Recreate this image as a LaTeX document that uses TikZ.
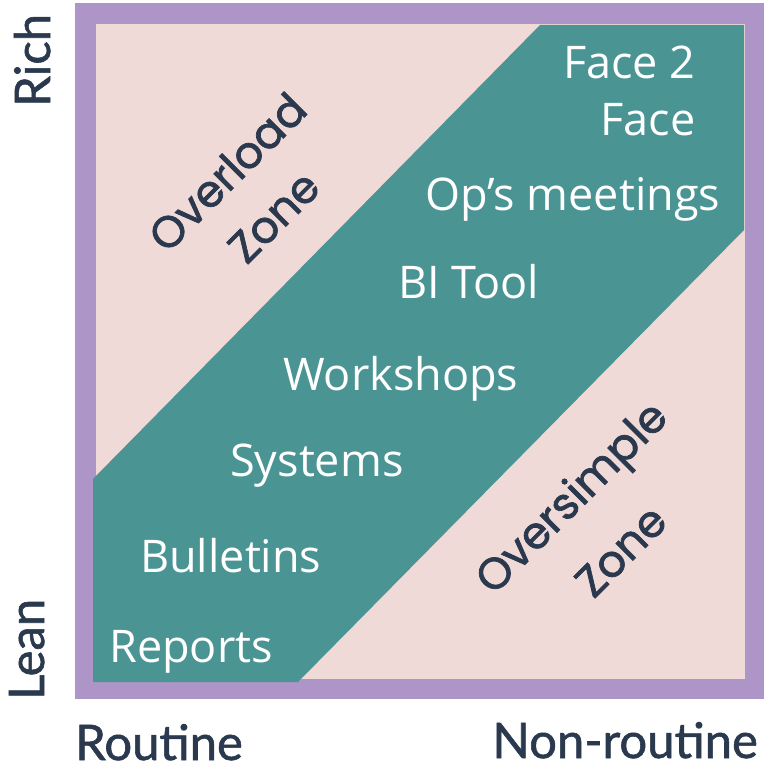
\documentclass[tikz,border=0pt]{standalone}
\usepackage{fontspec}
\setmainfont{Open Sans}
\newfontfamily\zonefont{Poppins}[FakeBold=1.6]
\newfontfamily\axisfont{Lato}[FakeBold=1.2]
\definecolor{borderpurple}{RGB}{173,150,199}
\definecolor{bgpink}{RGB}{240,218,216}
\definecolor{bandteal}{RGB}{74,148,148}
\definecolor{darktext}{RGB}{42,57,78}
\tikzset{
  item/.style={anchor=base west, inner sep=0pt, text=white, font=\fontsize{45}{54}\selectfont},
  zone/.style={inner sep=0pt, rotate=45, text=darktext, font=\zonefont\fontsize{44}{52}\selectfont},
  axis/.style={inner sep=0pt, text depth=0pt, text=darktext, font=\axisfont\fontsize{49}{58}\selectfont},
}
\begin{document}
\begin{tikzpicture}[x=1pt,y=-1pt]
\useasboundingbox (0,0) rectangle (768,768);
\fill[white] (0,0) rectangle (768,768);
% frame
\fill[borderpurple] (75,3) rectangle (764,699);
\fill[bgpink] (96,24) rectangle (745,679);
% band
\fill[bandteal] (93,682) -- (93,479) -- (540,25) -- (744,25) -- (744,230) -- (298,682) -- cycle;
% items
\node[item] (f2) at (563,78) {Face 2};
\node[item, anchor=base east] (f1) at (f2.base east |- 0,135) {Face};
\node[item] (ops) at (425,210) {Op’s meetings};
\node[item] (bi) at (398,298) {BI Tool};
\node[item] (ws) at (283,390) {Workshops};
\node[item] (sys) at (230,476) {Systems};
\node[item] (bul) at (140,572) {Bulletins};
\node[item] (rep) at (109,662) {Reports};
% zones
\node[zone] (ov1) at (227,172) {Overload};
\node[zone] (ov2) at (274,217) {Zone};
\node[zone] (os1) at (574,500) {Oversimple};
\node[zone] (os2) at (621,551) {Zone};
% axes
\node[axis, rotate=90, anchor=base west] (rich) at (50,107) {Rich};
\node[axis, rotate=90, anchor=base west] (lean) at (44,700) {Lean};
\node[axis, anchor=base west] (rout) at (75,760) {Routine};
\node[axis, anchor=base east] (nonr) at (758,758) {Non-routine};
\end{tikzpicture}
\end{document}
